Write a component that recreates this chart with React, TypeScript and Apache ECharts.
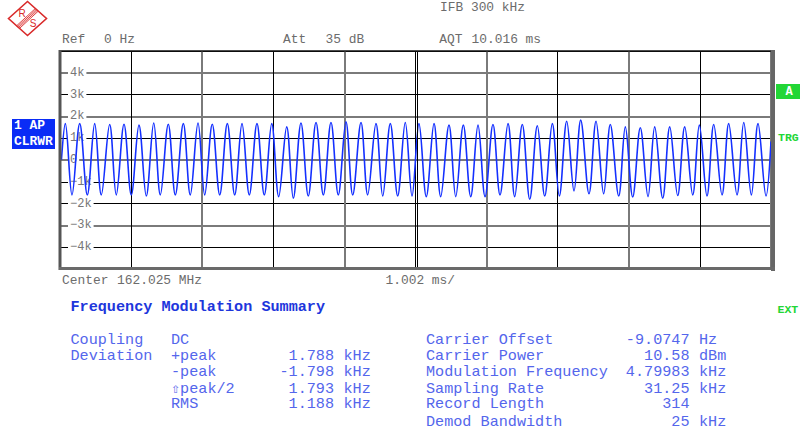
import React, { useEffect, useRef } from "react";
import * as echarts from "echarts";

// ---- trace data ----
// times in ms, deviation in Hz
const peakTimesMs = [
  0.075, 0.278, 0.489, 0.7, 0.902, 1.113, 1.321, 1.526, 1.738, 1.945, 2.146, 2.358,
  2.565, 2.776, 2.984, 3.195, 3.396, 3.608, 3.819, 4.03, 4.242, 4.453, 4.655, 4.866,
  5.059, 5.271, 5.482, 5.684, 5.891, 6.102, 6.314, 6.515, 6.727, 6.938, 7.141, 7.338,
  7.554, 7.755, 7.967, 8.178, 8.381, 8.593, 8.804, 9.01, 9.213, 9.424, 9.636, 9.837,
];
const peakValuesHz = [
  1670, 1670, 1670, 1630, 1640, 1600, 1700, 1640, 1670, 1700, 1640, 1670,
  1670, 1670, 1670, 1520, 1700, 1720, 1720, 1750, 1720, 1670, 1670, 1720,
  1670, 1670, 1600, 1600, 1600, 1630, 1670, 1630, 1570, 1670, 1780, 1830,
  1780, 1630, 1520, 1480, 1520, 1520, 1520, 1600, 1630, 1670, 1720, 1670,
];
const troughTimesMs = [
  0.169, 0.385, 0.582, 0.793, 1.005, 1.216, 1.414, 1.625, 1.836, 2.039, 2.251, 2.462,
  2.668, 2.879, 3.082, 3.288, 3.499, 3.711, 3.922, 4.125, 4.336, 4.548, 4.759, 4.961,
  5.162, 5.365, 5.577, 5.788, 5.99, 6.201, 6.408, 6.62, 6.831, 7.037, 7.244, 7.455,
  7.662, 7.874, 8.071, 8.287, 8.494, 8.705, 8.917, 9.118, 9.33, 9.541, 9.743, 9.95,
];
const troughValuesHz = [
  -1600, -1600, -1600, -1600, -1600, -1650, -1600, -1600, -1600, -1600, -1600, -1600,
  -1600, -1600, -1680, -1750, -1650, -1600, -1600, -1600, -1600, -1650, -1650, -1650,
  -1680, -1680, -1680, -1680, -1680, -1600, -1680, -1800, -1650, -1650, -1420, -1550,
  -1550, -1650, -1700, -1680, -1750, -1630, -1600, -1650, -1600, -1600, -1600, -1650,
];
const traceStart: [number, number] = [0.02, 0];
const traceEnd: [number, number] = [10.02, 850];

// ---- axes ----
const xDivisionMs = 1.002;
const xDivisionCount = 10;
const yMinHz = -5000;
const yMaxHz = 5000;
const yStepHz = 1000;
const centerMarkMs = [5.038];

// ---- header / footer texts ----
const headerTexts = {
  ifb: "IFB 300 kHz",
  ref: ["Ref", "0 Hz"],
  att: ["Att", "35 dB"],
  aqt: ["AQT", "10.016 ms"],
  center: ["Center", "162.025 MHz"],
  perDiv: "1.002 ms/",
};
const summaryTitle = "Frequency Modulation Summary";
const leftLabels = ["Coupling", "Deviation", "", "", ""];
const leftItems = ["DC", "+peak", "-peak", "\u21e7peak/2", "RMS"];
const leftValues = ["", "1.788", "-1.798", "1.793", "1.188"];
const leftUnits = ["", "kHz", "kHz", "kHz", "kHz"];
const rightLabels = [
  "Carrier Offset",
  "Carrier Power",
  "Modulation Frequency",
  "Sampling Rate",
  "Record Length",
  "Demod Bandwidth",
];
const rightValues = ["-9.0747", "10.58", "4.79983", "31.25", "314", "25"];
const rightUnits = ["Hz", "dBm", "kHz", "kHz", "", "kHz"];

const MONO = "'Liberation Mono','DejaVu Sans Mono',monospace";
const GREY_TXT = "#6c6c6c";
const BLUE_TXT = "#5466ec";
const BLUE_TITLE = "#1d36dc";
const GREEN = "#22d636";

function txt(
  x: number,
  y: number,
  text: string,
  o: { size?: number; weight?: string; fill?: string; align?: string; sx?: number; z?: number; family?: string } = {}
) {
  const align = o.align || "left";
  return {
    type: "text",
    x,
    y,
    scaleX: o.sx ?? 1,
    z: o.z ?? 20,
    silent: true,
    style: {
      text,
      fill: o.fill || GREY_TXT,
      font: `${o.weight || "normal"} ${o.size || 12}px ${o.family || MONO}`,
      align,
      verticalAlign: "middle",
      textAlign: align,
      textVerticalAlign: "middle",
    },
  };
}

function buildTrace(): [number, number][] {
  const pts: [number, number][] = [traceStart];
  const n = Math.max(peakTimesMs.length, troughTimesMs.length);
  for (let i = 0; i < n; i++) {
    if (i < peakTimesMs.length) pts.push([peakTimesMs[i], peakValuesHz[i]]);
    if (i < troughTimesMs.length) pts.push([troughTimesMs[i], troughValuesHz[i]]);
  }
  pts.push(traceEnd);
  pts.sort((a, b) => a[0] - b[0]);
  return pts;
}

export default function App() {
  const ref = useRef<HTMLDivElement>(null);

  useEffect(() => {
    document.body.style.margin = "0";
    if (!ref.current) return;
    const chart = echarts.init(ref.current, undefined, { renderer: "svg" });

    const xMax = xDivisionMs * xDivisionCount;
    const yLineColorsBlack = [
      "transparent", "#000", "transparent", "#000", "#000", "transparent",
      "#000", "transparent", "#000", "transparent", "#000",
    ];
    const yLineColorsGrey = yLineColorsBlack.map((c) => (c === "transparent" ? "#7a7a7a" : "transparent"));

    const baseX = {
      type: "value",
      position: "bottom",
      offset: 0,
      min: 0,
      max: xMax,
      interval: xDivisionMs,
      axisLine: { show: false },
      axisTick: { show: false },
      axisLabel: { show: false },
    };
    const baseY = {
      type: "value",
      position: "left",
      offset: 0,
      min: yMinHz,
      max: yMaxHz,
      interval: yStepHz,
      axisLine: { show: false },
      axisTick: { show: false },
      axisLabel: { show: false },
    };

    const graphic: any[] = [];
    // frame
    const frameLine = (x1: number, y1: number, x2: number, y2: number, stroke: string, w: number) => ({
      type: "line",
      silent: true,
      z: 15,
      shape: { x1, y1, x2, y2 },
      style: { stroke, lineWidth: w },
    });
    graphic.push(frameLine(59, 51, 773, 51, "#111", 1.5));
    graphic.push(frameLine(60, 50, 60, 270, "#555", 3));
    graphic.push(frameLine(773, 50, 773, 271, "#666", 4));
    graphic.push(frameLine(59, 268.5, 775, 268.5, "#6a6a6a", 3));

    // R&S logo
    const red = "#d92a2a";
    graphic.push({
      type: "polygon",
      silent: true,
      z: 20,
      shape: { points: [[8.5, 18.5], [27.5, 1.5], [46.5, 18.5], [27.5, 35.5]] },
      style: { fill: "#fff", stroke: red, lineWidth: 1.6 },
    });
    [-2.2, -0.9, 0.4, 1.7].forEach((o) => {
      graphic.push({
        type: "line",
        silent: true,
        z: 21,
        shape: { x1: 18 + o * 0.67, y1: 27.5 + o * 0.74, x2: 37 + o * 0.67, y2: 10 + o * 0.74 },
        style: { stroke: red, lineWidth: 0.9 },
      });
    });
    graphic.push(txt(22, 13, "R", { fill: red, size: 10, align: "center", family: "'Liberation Sans', sans-serif", z: 22 }));
    graphic.push(txt(33, 23.5, "S", { fill: red, size: 10, align: "center", family: "'Liberation Sans', sans-serif", z: 22 }));

    // header texts
    const hs = 1.075;
    graphic.push(txt(440, 8.5, headerTexts.ifb, { sx: hs }));
    graphic.push(txt(62, 40, headerTexts.ref[0], { sx: hs }));
    graphic.push(txt(104, 40, headerTexts.ref[1], { sx: hs }));
    graphic.push(txt(283, 40, headerTexts.att[0], { sx: hs }));
    graphic.push(txt(325.5, 40, headerTexts.att[1], { sx: hs }));
    graphic.push(txt(439.3, 40, headerTexts.aqt[0], { sx: hs }));
    graphic.push(txt(471.5, 40, headerTexts.aqt[1], { sx: hs }));
    graphic.push(txt(62, 281, headerTexts.center[0], { sx: hs }));
    graphic.push(txt(117, 281, headerTexts.center[1], { sx: hs }));
    graphic.push(txt(385.5, 281, headerTexts.perDiv, { sx: hs }));

    // trace indicator boxes
    graphic.push({ type: "rect", silent: true, z: 20, shape: { x: 12, y: 119, width: 43, height: 30 }, style: { fill: "#0a2cf6" } });
    graphic.push(txt(14, 126.5, "1 AP", { fill: "#fff", weight: "bold", size: 12, sx: 1.08, z: 21 }));
    graphic.push(txt(14, 142, "CLRWR", { fill: "#fff", weight: "bold", size: 12, sx: 1.08, z: 21 }));
    graphic.push({ type: "rect", silent: true, z: 20, shape: { x: 776, y: 84, width: 24, height: 15 }, style: { fill: GREEN } });
    graphic.push(txt(789, 91.5, "A", { fill: "#fff", weight: "bold", size: 12, align: "center", z: 21 }));
    graphic.push(txt(778, 138.5, "TRG", { fill: GREEN, weight: "bold", size: 11, sx: 1.05 }));
    graphic.push(txt(777.5, 310, "EXT", { fill: GREEN, weight: "bold", size: 11, sx: 1.05 }));

    // summary
    const bs = 1.083;
    graphic.push(txt(70.5, 306.7, summaryTitle, { size: 14, weight: "bold", fill: BLUE_TITLE, sx: bs }));
    const leftY = [340, 355.7, 371.7, 389, 404.3];
    leftY.forEach((y, i) => {
      if (leftLabels[i]) graphic.push(txt(70.5, y, leftLabels[i], { size: 14, fill: BLUE_TXT, sx: bs }));
      if (leftItems[i]) graphic.push(txt(171, y, leftItems[i], { size: 14, fill: BLUE_TXT, sx: bs }));
      if (leftValues[i]) graphic.push(txt(334, y, leftValues[i], { size: 14, fill: BLUE_TXT, sx: bs, align: "right" }));
      if (leftUnits[i]) graphic.push(txt(343.5, y, leftUnits[i], { size: 14, fill: BLUE_TXT, sx: bs }));
    });
    const rightY = [340, 355.7, 371.7, 389, 404.3, 421.7];
    rightY.forEach((y, i) => {
      graphic.push(txt(426, y, rightLabels[i], { size: 14, fill: BLUE_TXT, sx: bs }));
      graphic.push(txt(689.5, y, rightValues[i], { size: 14, fill: BLUE_TXT, sx: bs, align: "right" }));
      if (rightUnits[i]) graphic.push(txt(699, y, rightUnits[i], { size: 14, fill: BLUE_TXT, sx: bs }));
    });

    chart.setOption({
      animation: false,
      backgroundColor: "#fff",
      grid: { left: 60, right: 29, top: 51, bottom: 165, containLabel: false },
      xAxis: [
        { ...baseX, splitLine: { show: true, lineStyle: { color: ["transparent", "#000"], width: 1 } } },
        { ...baseX, splitLine: { show: true, lineStyle: { color: ["#7a7a7a", "transparent"], width: 2 } } },
      ],
      yAxis: [
        { ...baseY, splitLine: { show: true, lineStyle: { color: yLineColorsBlack, width: 1 } } },
        { ...baseY, splitLine: { show: true, lineStyle: { color: yLineColorsGrey, width: 2 } } },
        {
          ...baseY,
          z: 1,
          splitLine: { show: false },
          axisLabel: {
            show: true,
            inside: true,
            margin: 8,
            showMinLabel: false,
            showMaxLabel: false,
            color: "#767676",
            fontFamily: MONO,
            fontSize: 12,
            backgroundColor: "#fff",
            padding: [0, 2],
            formatter: (v: number) => (v === 0 ? "0" : (v < 0 ? "\u2212" : "") + Math.abs(v / 1000) + "k"),
          },
        },
      ],
      series: [
        {
          type: "line",
          xAxisIndex: 0,
          yAxisIndex: 0,
          data: buildTrace(),
          showSymbol: false,
          symbol: "none",
          smooth: 0.36,
          z: 3,
          lineStyle: { color: "#1430ff", width: 1.6 },
          markLine: {
            silent: true,
            symbol: "none",
            label: { show: false },
            lineStyle: { color: "#000", width: 1, type: "solid" },
            data: centerMarkMs.map((t) => ({ xAxis: t })),
          },
        },
      ],
      graphic,
    });

    return () => chart.dispose();
  }, []);

  return (
    <div
      ref={ref}
      style={{ position: "fixed", left: 0, top: 0, width: 800, height: 434, background: "#fff" }}
    />
  );
}
